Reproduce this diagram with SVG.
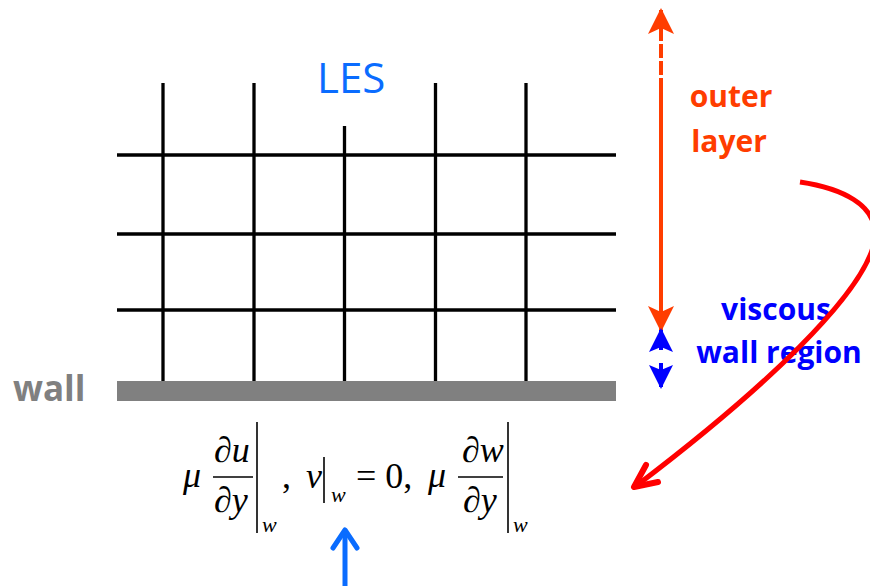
<svg xmlns="http://www.w3.org/2000/svg" width="870" height="586" viewBox="0 0 870 586">
<style>
.grid{stroke:#000;stroke-width:3.3;fill:none}
.lbl{font-family:"Open Sans","Liberation Sans",sans-serif;font-weight:bold;font-size:30px}
.m{font-family:"Liberation Serif","Times New Roman",serif;font-size:36px;font-style:italic}
.mr{font-family:"Liberation Serif","Times New Roman",serif;font-size:36px}
.sub{font-family:"Liberation Serif","Times New Roman",serif;font-size:22px;font-style:italic}
.bar{stroke:#000;stroke-width:1.6}
</style>
<defs>
<marker id="orH" viewBox="0 0 26 26" refX="24" refY="13" markerWidth="26" markerHeight="26" markerUnits="userSpaceOnUse" orient="auto-start-reverse">
<path d="M0,0 L26,13 L0,26 L6,13 Z" fill="#FF3D00"/>
</marker>
<marker id="blH" viewBox="0 0 24 24" refX="22" refY="12" markerWidth="24" markerHeight="24" markerUnits="userSpaceOnUse" orient="auto-start-reverse">
<path d="M0,0 L24,12 L0,24 L5,12 Z" fill="#0000FF"/>
</marker>
</defs>
<rect width="870" height="586" fill="#fff"/>

<g id="grid">
<line class="grid" x1="117" y1="155" x2="616" y2="155"/>
<line class="grid" x1="117" y1="234" x2="616" y2="234"/>
<line class="grid" x1="117" y1="310" x2="616" y2="310"/>
<line class="grid" x1="163" y1="83" x2="163" y2="382"/>
<line class="grid" x1="254" y1="83" x2="254" y2="382"/>
<line class="grid" x1="344.5" y1="126" x2="344.5" y2="382"/>
<line class="grid" x1="435.5" y1="83" x2="435.5" y2="382"/>
<line class="grid" x1="526" y1="83" x2="526" y2="382"/>
</g>

<g id="wall">
<rect x="117" y="381" width="499" height="20" fill="#808080"/>
<text class="lbl" x="13" y="401" fill="#808080" font-size="35" style="font-size:35px">wall</text>
</g>

<g id="les">
<text x="317" y="93" font-family="'Open Sans','Liberation Sans',sans-serif" font-size="42" fill="#0A6CFF">LES</text>
</g>

<g id="outer-layer">
<text class="lbl" x="731" y="107" text-anchor="middle" fill="#FF3D00">outer</text>
<text class="lbl" x="729" y="152" text-anchor="middle" fill="#FF3D00">layer</text>
</g>

<g id="viscous">
<text class="lbl" x="776" y="320" text-anchor="middle" fill="#0000FF">viscous</text>
<text class="lbl" x="779" y="363" text-anchor="middle" fill="#0000FF">wall region</text>
</g>

<g id="formula">
<text class="m" x="183" y="487">μ</text>
<text class="m" x="214" y="462">∂u</text>
<line class="bar" x1="213" y1="477" x2="253" y2="477"/>
<text class="m" x="214" y="512">∂y</text>
<line class="bar" x1="257" y1="422" x2="257" y2="533"/>
<text class="sub" x="262" y="532">w</text>
<text class="mr" x="282" y="488">,</text>
<text class="m" x="306" y="488">v</text>
<line class="bar" x1="324" y1="457" x2="324" y2="503"/>
<text class="sub" x="331" y="502">w</text>
<text class="mr" x="356" y="488">= 0,</text>
<text class="m" x="428" y="487">μ</text>
<text class="m" x="462" y="462">∂w</text>
<line class="bar" x1="458" y1="477" x2="503" y2="477"/>
<text class="m" x="463" y="512">∂y</text>
<line class="bar" x1="508" y1="422" x2="508" y2="533"/>
<text class="sub" x="513" y="532">w</text>
</g>

<g id="connectors">
<line x1="661" y1="92" x2="661" y2="28" stroke="#FF3D00" stroke-width="4" stroke-dasharray="14,3"/>
<line x1="661" y1="32" x2="661" y2="10" stroke="#FF3D00" stroke-width="4" marker-end="url(#orH)"/>
<line x1="661" y1="92" x2="661" y2="330" stroke="#FF3D00" stroke-width="4" marker-end="url(#orH)"/>
<line x1="661" y1="350" x2="661" y2="330" stroke="#0000FF" stroke-width="4" marker-end="url(#blH)"/>
<line x1="661" y1="363" x2="661" y2="387" stroke="#0000FF" stroke-width="4" marker-end="url(#blH)"/>
<path d="M800,182 C840,188 878,204 875,238 C868,292 760,392 636,486" fill="none" stroke="#FF0000" stroke-width="5"/>
<path d="M646,465 L634,487 L658,482" fill="none" stroke="#FF0000" stroke-width="6" stroke-linecap="round" stroke-linejoin="round"/>
<line x1="345" y1="586" x2="345" y2="530" stroke="#0A6CFF" stroke-width="5"/>
<path d="M333,548 L345,530 L357,548" fill="none" stroke="#0A6CFF" stroke-width="5" stroke-linecap="round" stroke-linejoin="round"/>
</g>
</svg>
